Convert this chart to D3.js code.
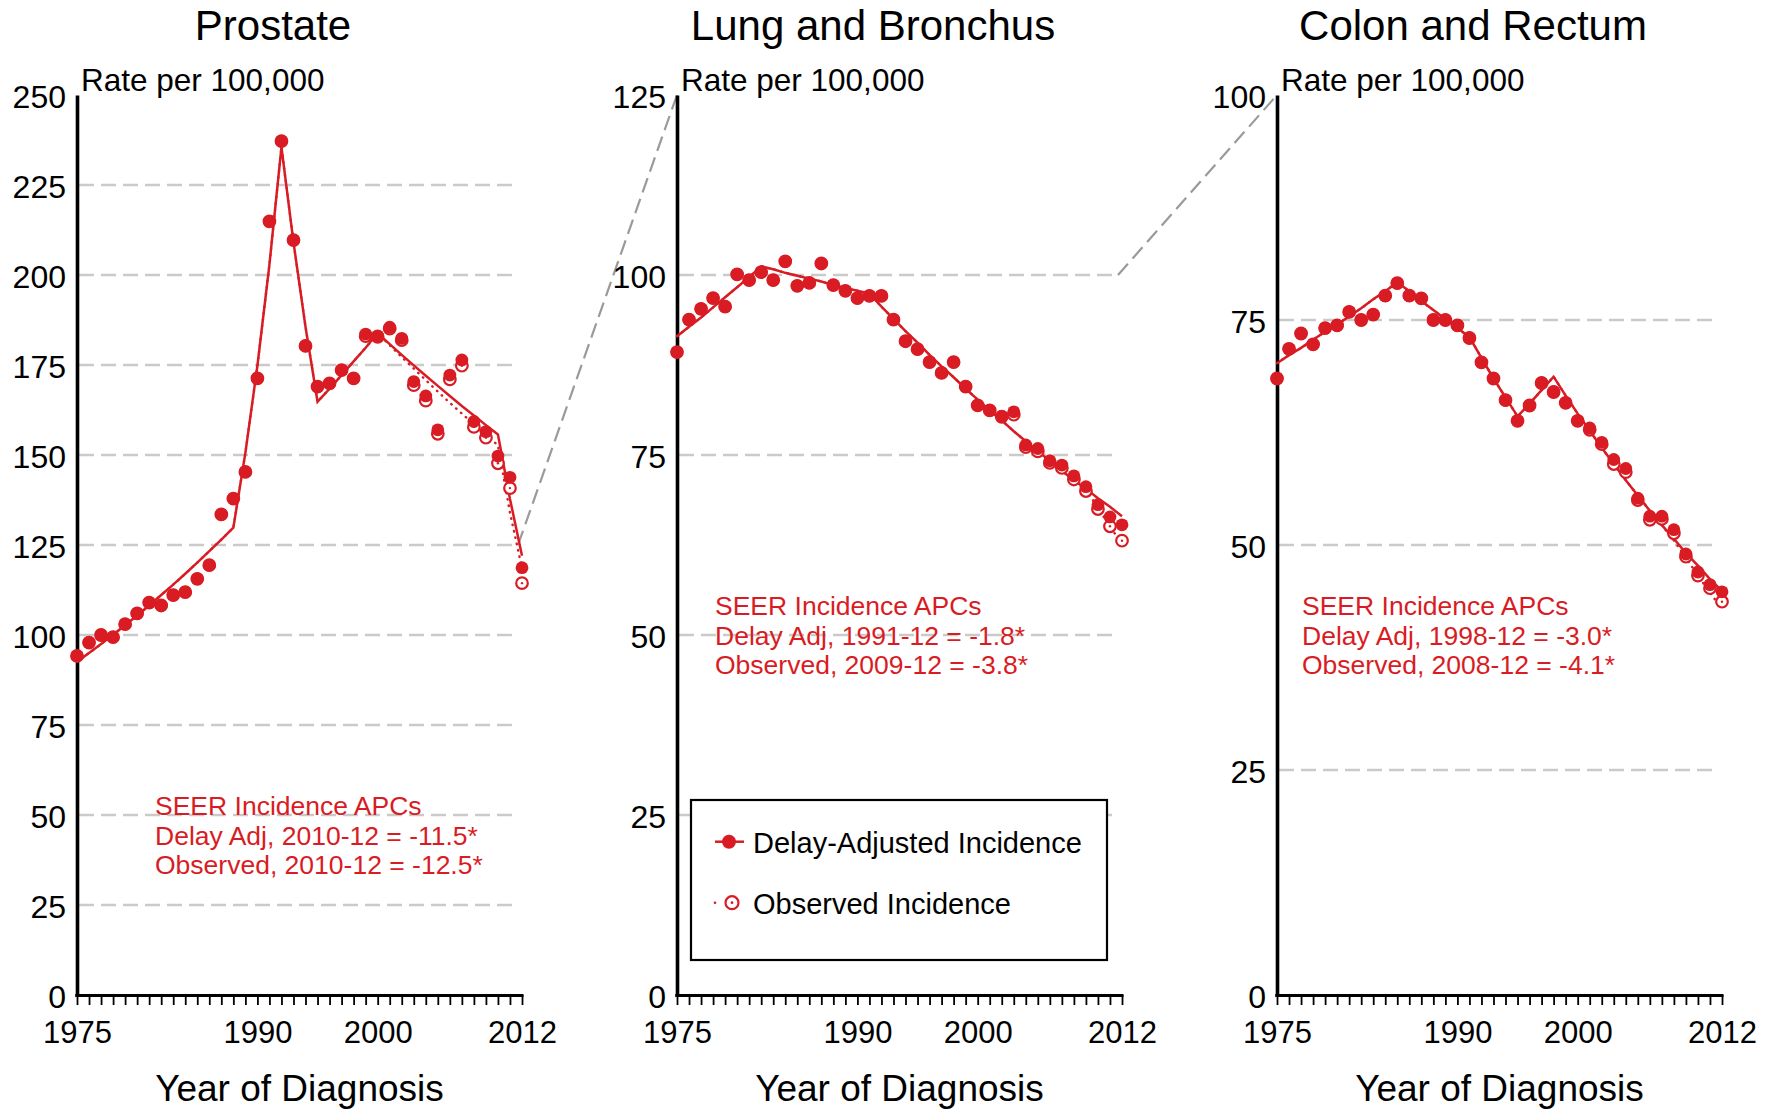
<!DOCTYPE html>
<html>
<head>
<meta charset="utf-8">
<script src="https://cdn.jsdelivr.net/npm/d3@7/dist/d3.min.js"></script>
<style>
  body { margin: 0; background: #fff; }
  svg text { font-family: "Liberation Sans", Arial, sans-serif; }
</style>
</head>
<body>
<div id="chart"></div>
<script>
/* eslint-env browser */

/*
 * SEER incidence trends, three cancer sites side by side.
 * Dots = delay-adjusted rates, rings = observed rates,
 * solid / dotted lines = joinpoint fits.
 */

var years = [1975, 1976, 1977, 1978, 1979, 1980, 1981, 1982, 1983, 1984,
  1985, 1986, 1987, 1988, 1989, 1990, 1991, 1992, 1993, 1994,
  1995, 1996, 1997, 1998, 1999, 2000, 2001, 2002, 2003, 2004,
  2005, 2006, 2007, 2008, 2009, 2010, 2011, 2012];
var yearLabels = [1975, 1990, 2000, 2012];

// Prostate
var prostateTicks = [0, 25, 50, 75, 100, 125, 150, 175, 200, 225, 250];
var prostateDelay = [94.2, 97.9, 100.0, 99.4, 103.0, 106.0, 109.0, 108.2, 111.1, 111.9,
  115.6, 119.4, 133.5, 137.9, 145.3, 171.3, 214.9, 237.2, 209.7, 180.3,
  169.0, 169.9, 173.6, 171.3, 183.6, 183.1, 185.5, 182.4, 170.4, 166.4,
  157.0, 172.2, 176.4, 159.3, 156.5, 149.7, 143.8, 118.7];
var prostateObserved = [94.2, 97.9, 100.0, 99.4, 103.0, 106.0, 109.0, 108.2, 111.1, 111.9,
  115.6, 119.4, 133.5, 137.9, 145.3, 171.3, 214.9, 237.2, 209.7, 180.3,
  169.0, 169.9, 173.6, 171.3, 183.0, 182.8, 185.1, 181.9, 169.4, 165.1,
  155.9, 171.0, 174.8, 157.8, 154.8, 147.7, 140.8, 114.4];
var prostateDelayFit = [92.6, 95.0, 97.5, 100.1, 102.7, 105.4, 108.2, 111.1, 114.0, 117.0,
  120.1, 123.3, 126.5, 129.8, 150.6, 174.8, 202.9, 235.5, 209.1, 185.6,
  164.8, 168.4, 172.2, 176.0, 179.8, 183.8, 180.8, 177.8, 174.9, 172.0,
  169.2, 166.4, 163.6, 161.0, 158.3, 155.7, 137.8, 122.0];
var prostateObservedFit = [92.6, 95.0, 97.5, 100.1, 102.7, 105.4, 108.2, 111.1, 114.0, 117.0,
  120.1, 123.3, 126.5, 129.8, 150.6, 174.8, 202.9, 235.5, 209.1, 185.6,
  164.8, 168.4, 172.2, 176.0, 179.8, 183.8, 180.5, 177.2, 174.0, 170.8,
  167.6, 164.5, 161.5, 158.5, 155.6, 152.7, 134.0, 118.5];
var prostateApc = ["SEER Incidence APCs", "Delay Adj, 2010-12 = -11.5*", "Observed, 2010-12 = -12.5*"];

// Lung and Bronchus
var lungTicks = [0, 25, 50, 75, 100, 125];
var lungDelay = [89.3, 93.8, 95.3, 96.8, 95.6, 100.1, 99.3, 100.4, 99.3, 101.9,
  98.5, 98.9, 101.6, 98.6, 97.8, 96.8, 97.1, 97.1, 93.8, 90.8,
  89.7, 87.9, 86.4, 87.9, 84.5, 81.9, 81.2, 80.4, 81.0, 76.4,
  75.9, 74.2, 73.6, 72.1, 70.6, 68.1, 66.4, 65.3];
var lungObserved = [89.3, 93.8, 95.3, 96.8, 95.6, 100.1, 99.3, 100.4, 99.3, 101.9,
  98.5, 98.9, 101.6, 98.6, 97.8, 96.8, 97.1, 97.1, 93.8, 90.8,
  89.7, 87.9, 86.4, 87.9, 84.5, 81.9, 81.2, 80.3, 80.6, 76.1,
  75.5, 73.9, 73.2, 71.6, 70.0, 67.5, 65.1, 63.1];
var lungDelayFit = [91.5, 92.8, 94.1, 95.5, 96.9, 98.3, 99.7, 101.2, 100.8, 100.3,
  99.9, 99.5, 99.1, 98.6, 98.2, 97.8, 97.4, 95.6, 93.9, 92.2,
  90.6, 88.9, 87.3, 85.8, 84.2, 82.7, 81.2, 79.8, 78.3, 76.9,
  75.5, 74.2, 72.8, 71.5, 70.3, 69.0, 67.8, 66.5];
var lungObservedFit = [91.5, 92.8, 94.1, 95.5, 96.9, 98.3, 99.7, 101.2, 100.8, 100.3,
  99.9, 99.5, 99.1, 98.6, 98.2, 97.8, 97.4, 95.6, 93.9, 92.2,
  90.6, 88.9, 87.3, 85.8, 84.2, 82.7, 81.2, 79.8, 78.3, 76.9,
  75.5, 74.2, 72.8, 71.5, 70.3, 67.6, 65.1, 62.6];
var lungApc = ["SEER Incidence APCs", "Delay Adj, 1991-12 = -1.8*", "Observed, 2009-12 = -3.8*"];

// Colon and Rectum
var colonTicks = [0, 25, 50, 75, 100];
var colonDelay = [68.5, 71.8, 73.5, 72.3, 74.1, 74.4, 75.9, 75.0, 75.6, 77.7,
  79.1, 77.7, 77.4, 75.0, 75.0, 74.4, 73.0, 70.3, 68.5, 66.1,
  63.8, 65.5, 68.0, 67.0, 65.8, 63.8, 63.0, 61.4, 59.5, 58.5,
  55.2, 53.2, 53.2, 51.7, 49.0, 47.0, 45.6, 44.8];
var colonObserved = [68.5, 71.8, 73.5, 72.3, 74.1, 74.4, 75.9, 75.0, 75.6, 77.7,
  79.1, 77.7, 77.4, 75.0, 75.0, 74.4, 73.0, 70.3, 68.5, 66.1,
  63.8, 65.5, 68.0, 67.0, 65.8, 63.8, 62.8, 61.2, 59.0, 58.1,
  55.0, 52.8, 52.9, 51.3, 48.7, 46.6, 45.2, 43.7];
var colonDelayFit = [70.2, 71.1, 71.9, 72.8, 73.7, 74.5, 75.4, 76.3, 77.3, 78.2,
  79.2, 78.2, 77.1, 76.1, 75.1, 74.1, 73.1, 70.8, 68.5, 66.4,
  64.3, 65.7, 67.2, 68.7, 66.6, 64.6, 62.7, 60.8, 59.0, 57.2,
  55.5, 53.8, 52.2, 50.7, 49.1, 47.7, 46.2, 44.9];
var colonObservedFit = [70.2, 71.1, 71.9, 72.8, 73.7, 74.5, 75.4, 76.3, 77.3, 78.2,
  79.2, 78.2, 77.1, 76.1, 75.1, 74.1, 73.1, 70.8, 68.5, 66.4,
  64.3, 65.7, 67.2, 68.7, 66.6, 64.6, 62.7, 60.8, 59.0, 57.2,
  55.5, 53.8, 52.2, 50.5, 48.6, 46.6, 44.7, 42.9];
var colonApc = ["SEER Incidence APCs", "Delay Adj, 1998-12 = -3.0*", "Observed, 2008-12 = -4.1*"];

var legendLabels = ["Delay-Adjusted Incidence", "Observed Incidence"];

var Seer = Seer || {};

Seer.TrendPanels = function () {
  "use strict";

  var that = {},
    width = 1767,
    height = 1110,
    top = 95,
    plotWidth = 445,
    plotHeight = 900,
    red = "#d91c24",
    gridColor = "#cacaca",
    linkColor = "#9a9a9a",
    svg,
    panels;

  // Each panel: where it sits and which arrays feed it.
  panels = [
    { title: "Prostate", left: 77, ticks: prostateTicks, delay: prostateDelay,
      observed: prostateObserved, delayFit: prostateDelayFit, observedFit: prostateObservedFit,
      apc: prostateApc, apcX: 78, apcY: 720, linkFrom: 125 },
    { title: "Lung and Bronchus", left: 677, ticks: lungTicks, delay: lungDelay,
      observed: lungObserved, delayFit: lungDelayFit, observedFit: lungObservedFit,
      apc: lungApc, apcX: 38, apcY: 520, linkFrom: 100, legend: true },
    { title: "Colon and Rectum", left: 1277, ticks: colonTicks, delay: colonDelay,
      observed: colonObserved, delayFit: colonDelayFit, observedFit: colonObservedFit,
      apc: colonApc, apcX: 25, apcY: 520 }
  ];

  function draw() {
    svg = d3.select("#chart")
      .append("svg")
      .attr("width", width)
      .attr("height", height);

    panels.forEach(function (p) {
      p.x = d3.scaleLinear().domain([1975, 2012]).range([0, plotWidth]);
      p.y = d3.scaleLinear().domain([0, d3.max(p.ticks)]).range([plotHeight, 0]);
    });

    // Dashed links showing the change of scale from one panel to the next.
    panels.forEach(function (p, i) {
      let next = panels[i + 1];
      if (!next || p.linkFrom === undefined) {
        return;
      }
      svg.append("line")
        .attr("x1", p.left + p.x(2012) - 4)
        .attr("y1", top + p.y(p.linkFrom))
        .attr("x2", next.left)
        .attr("y2", top)
        .style("stroke", linkColor)
        .style("stroke-width", 2.2)
        .style("stroke-dasharray", "15,7");
    });

    panels.forEach(drawPanel);
  }

  function drawPanel(p) {
    let g = svg.append("g")
        .attr("transform", "translate(" + p.left + "," + top + ")"),
      x = p.x,
      y = p.y,
      maxTick = d3.max(p.ticks),
      points,
      line;

    // Grid lines (not at 0 and not at the top value).
    g.selectAll(".grid")
      .data(p.ticks.filter(function (d) { return d > 0 && d < maxTick; }))
      .enter().append("line")
      .attr("class", "grid")
      .attr("x1", 2)
      .attr("x2", x(2012) - 4)
      .attr("y1", function (d) { return y(d); })
      .attr("y2", function (d) { return y(d); })
      .style("stroke", gridColor)
      .style("stroke-width", 2.4)
      .style("stroke-dasharray", "15,7");

    // Titles.
    g.append("text")
      .attr("x", 196)
      .attr("y", -55)
      .attr("text-anchor", "middle")
      .style("font-size", "42px")
      .text(p.title);

    g.append("text")
      .attr("x", 4)
      .attr("y", -4)
      .style("font-size", "31.5px")
      .text("Rate per 100,000");

    g.append("text")
      .attr("x", plotWidth / 2)
      .attr("y", plotHeight + 106)
      .attr("text-anchor", "middle")
      .style("font-size", "37px")
      .text("Year of Diagnosis");

    // APC annotation.
    g.append("text")
      .attr("x", p.apcX)
      .attr("y", p.apcY)
      .style("font-size", "26.5px")
      .style("fill", red)
      .selectAll("tspan")
      .data(p.apc)
      .enter().append("tspan")
      .attr("x", p.apcX)
      .attr("dy", function (d, i) { return i === 0 ? 0 : 29.5; })
      .text(function (d) { return d; });

    if (p.legend) {
      drawLegend(g);
    }

    // Axes.
    g.append("g")
      .attr("class", "y-axis")
      .call(d3.axisLeft(y).tickValues(p.ticks).tickSize(0).tickSizeOuter(0).tickPadding(11))
      .call(styleAxis, 3.6, "32px");
    g.select(".y-axis").selectAll("text").attr("dy", "0.38em");

    g.append("g")
      .attr("class", "x-axis")
      .attr("transform", "translate(0," + plotHeight + ")")
      .call(d3.axisBottom(x).tickValues(years).tickSize(10).tickSizeOuter(0).tickPadding(16)
        .tickFormat(function (d) { return yearLabels.indexOf(d) >= 0 ? d : ""; }))
      .call(styleAxis, 3, "31px");
    g.select(".x-axis .domain").attr("d", "M-1.8,0.5H" + (x(2012) + 1.5));

    points = years.map(function (yr, i) {
      return { year: yr, delay: p.delay[i], observed: p.observed[i],
        delayFit: p.delayFit[i], observedFit: p.observedFit[i] };
    });

    // Joinpoint fits: dotted = observed, solid = delay-adjusted.
    line = function (key) {
      return d3.line()
        .x(function (d) { return x(d.year); })
        .y(function (d) { return y(d[key]); });
    };

    g.append("path")
      .datum(points)
      .attr("d", line("observedFit"))
      .style("fill", "none")
      .style("stroke", red)
      .style("stroke-width", 2.4)
      .style("stroke-linecap", "round")
      .style("stroke-dasharray", "0.5,6");

    g.append("path")
      .datum(points)
      .attr("d", line("delayFit"))
      .style("fill", "none")
      .style("stroke", red)
      .style("stroke-width", 2.5);

    // Observed rings first, delay-adjusted dots on top of them.
    let rings = g.selectAll(".obs")
      .data(points)
      .enter().append("g")
      .attr("class", "obs")
      .attr("transform", function (d) {
        return "translate(" + x(d.year) + "," + y(d.observed) + ")";
      });
    rings.append("circle")
      .attr("r", 5.8)
      .style("fill", "#fff")
      .style("stroke", red)
      .style("stroke-width", 2.2);
    rings.append("circle")
      .attr("r", 1.2)
      .style("fill", red);

    g.selectAll(".dot")
      .data(points)
      .enter().append("circle")
      .attr("class", "dot")
      .attr("cx", function (d) { return x(d.year); })
      .attr("cy", function (d) { return y(d.delay); })
      .attr("r", 6.4)
      .style("fill", red);
  }

  function styleAxis(sel, domainWidth, fontSize) {
    sel.attr("font-family", null).attr("font-size", null);
    sel.select(".domain")
      .style("stroke", "#000")
      .style("stroke-width", domainWidth);
    sel.selectAll(".tick line")
      .style("stroke", "#000")
      .style("stroke-width", 1.8);
    sel.selectAll(".tick text")
      .style("fill", "#000")
      .style("font-size", fontSize);
  }

  // Legend box inside the lung panel.
  function drawLegend(g) {
    let lg = g.append("g")
        .attr("transform", "translate(14,705)"),
      rows;

    lg.append("rect")
      .attr("width", 416)
      .attr("height", 160)
      .style("fill", "#fff")
      .style("stroke", "#000")
      .style("stroke-width", 2.2);

    rows = lg.selectAll(".key")
      .data(legendLabels)
      .enter().append("g")
      .attr("class", "key")
      .attr("transform", function (d, i) {
        return "translate(0," + (i === 0 ? 41.7 : 102.7) + ")";
      });

    rows.append("text")
      .attr("x", 62)
      .attr("y", function (d, i) { return i === 0 ? 11 : 11.6; })
      .style("font-size", "29px")
      .text(function (d) { return d; });

    // Delay-adjusted key: line through a filled dot.
    lg.select(".key").append("line")
      .attr("x1", 24)
      .attr("x2", 53)
      .style("stroke", red)
      .style("stroke-width", 2.5);
    lg.select(".key").append("circle")
      .attr("cx", 38)
      .attr("r", 7)
      .style("fill", red);

    // Observed key: short dotted lead and a ring with a centre dot.
    let obs = d3.select(rows.nodes()[1]);
    obs.append("circle")
      .attr("cx", 24)
      .attr("cy", 0)
      .attr("r", 1.3)
      .style("fill", red);
    obs.append("circle")
      .attr("cx", 41)
      .attr("r", 6.5)
      .style("fill", "#fff")
      .style("stroke", red)
      .style("stroke-width", 2.2);
    obs.append("circle")
      .attr("cx", 41)
      .attr("r", 1.4)
      .style("fill", red);
  }

  that.draw = draw;
  return that;
};

Seer.TrendPanels().draw();
</script>
</body>
</html>
